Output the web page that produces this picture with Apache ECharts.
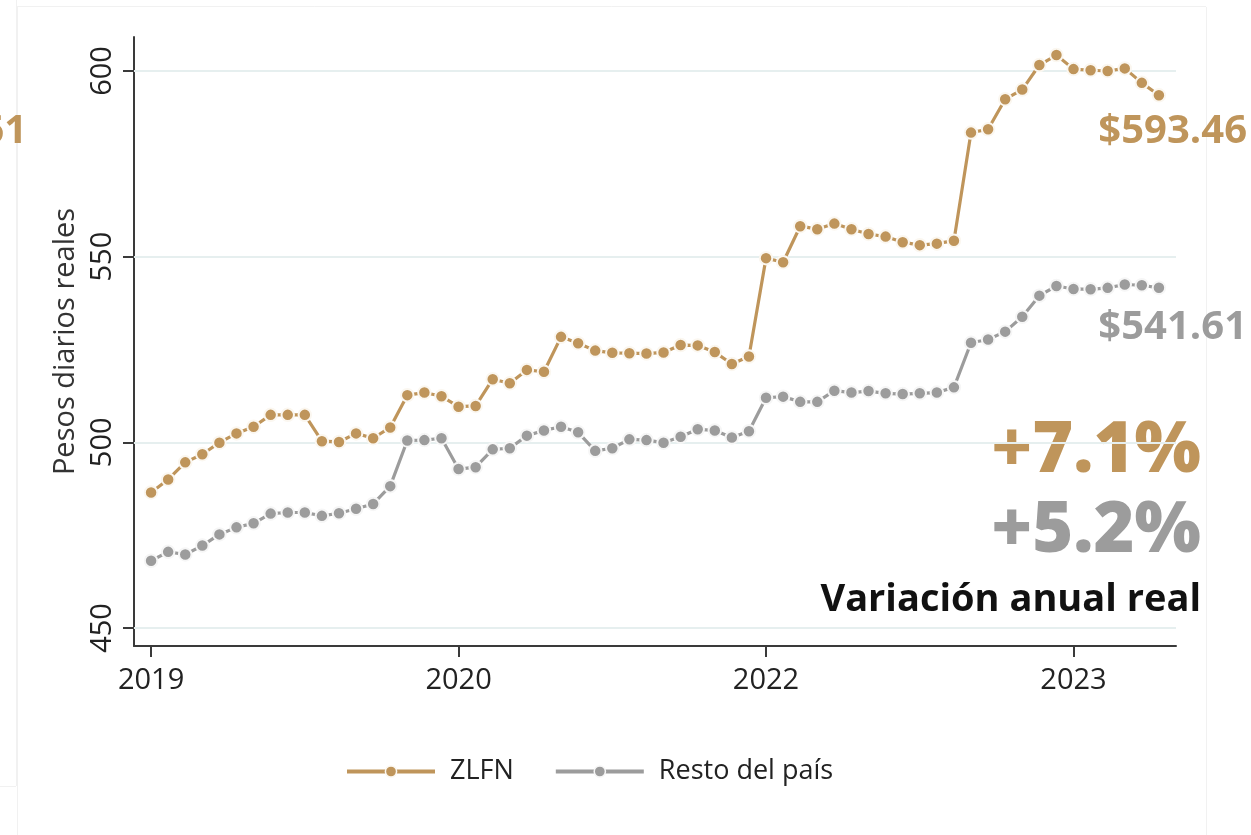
<!DOCTYPE html>
<html><head><meta charset="utf-8">
<script src="https://cdn.jsdelivr.net/npm/echarts@6/dist/echarts.min.js"></script>
<style>html,body{margin:0;padding:0;background:#fff}#c{width:1251px;height:835px}</style>
</head><body><div id="c"></div>
<script>
// Monthly series, Jan 2019 .. Dec 2023 (index 0..59)
const seriesNames = ['ZLFN', 'Resto del país'];
const zlfn = [486.5,490.0,494.6,496.8,499.9,502.4,504.2,507.4,507.4,507.4,
  500.3,500.1,502.4,501.1,504.0,512.7,513.4,512.4,509.6,509.8,
  517.0,515.9,519.5,519.0,528.4,526.7,524.7,524.1,524.0,523.9,
  524.2,526.2,526.1,524.3,521.1,523.1,549.6,548.5,558.2,557.4,
  558.9,557.4,556.1,555.4,553.9,553.1,553.5,554.3,583.4,584.3,
  592.4,595.0,601.6,604.3,600.5,600.2,600.0,600.7,596.8,593.46];
const resto = [468.1,470.5,469.8,472.2,475.2,477.1,478.2,480.8,481.1,481.1,
  480.2,480.9,482.1,483.4,488.2,500.5,500.6,501.1,492.8,493.3,
  498.1,498.4,501.8,503.2,504.2,502.7,497.7,498.4,500.8,500.6,
  499.9,501.5,503.5,503.2,501.3,503.0,512.0,512.3,510.9,510.9,
  513.9,513.4,513.8,513.2,513.0,513.2,513.4,514.8,526.8,527.7,
  529.8,533.8,539.5,542.1,541.3,541.2,541.6,542.5,542.3,541.61];
const xTickPositions = [0, 18, 36, 54];
const xTickLabels = ['2019', '2020', '2022', '2023'];
const yTicks = [450, 500, 550, 600];
const yName = 'Pesos diarios reales';

const GOLD = '#bf955b', GRAY = '#9c9c9c';
const FONT = "'Open Sans', sans-serif";

const toPts = arr => arr.map((v, i) => [i, v]);

const chart = echarts.init(document.getElementById('c'));
const borderCol = '#f1f1f1';
const txt = (x, y, text, fill, font) => ({
  type: 'text', x, y,
  style: { text, fill, font, align: 'right', verticalAlign: 'middle', textAlign: 'right', textVerticalAlign: 'middle' }
});
chart.setOption({
  animation: false,
  backgroundColor: '#fff',
  grid: { left: 134, right: 75, top: 37, bottom: 189, containLabel: false },
  xAxis: {
    type: 'value', min: -1, max: 60,
    axisLine: { show: true, onZero: false, lineStyle: { color: '#3a3a3a', width: 2 } },
    axisTick: { show: true, length: 11, customValues: xTickPositions, lineStyle: { color: '#3a3a3a', width: 2 } },
    axisLabel: { customValues: xTickPositions, margin: 20, fontFamily: FONT, fontSize: 29, color: '#222',
      formatter: v => xTickLabels[xTickPositions.indexOf(Math.round(v))] || '' },
    splitLine: { show: false }
  },
  yAxis: {
    type: 'value', min: 445.15, max: 609.15,
    name: yName, nameLocation: 'middle', nameGap: 54, nameRotate: 90,
    nameTextStyle: { fontFamily: FONT, fontSize: 29, color: '#333' },
    axisLine: { show: true, onZero: false, lineStyle: { color: '#3a3a3a', width: 2 } },
    axisTick: { show: true, length: 11, customValues: yTicks, lineStyle: { color: '#3a3a3a', width: 2 } },
    axisLabel: { customValues: yTicks, rotate: 90, margin: 17, fontFamily: FONT, fontSize: 29, color: '#222' },
    splitLine: { show: false }
  },
  legend: {
    left: 345, top: 758, padding: 0,
    itemWidth: 88, itemHeight: 14, itemGap: 40,
    lineStyle: { width: 4 },
    itemStyle: { borderWidth: 1.5 },
    textStyle: { fontFamily: FONT, fontSize: 27, color: '#222', padding: [0, 0, 0, 10] },
    data: seriesNames
  },
  series: [
    {
      name: seriesNames[0], type: 'line', data: toPts(zlfn),
      symbol: 'circle', symbolSize: 12.5, z: 4,
      lineStyle: { color: GOLD, width: 3.2 },
      itemStyle: { color: GOLD, borderColor: '#fbf7f0', borderWidth: 2 },
      markLine: {
        silent: true, symbol: 'none', label: { show: false }, z: 1,
        lineStyle: { color: '#e6efef', width: 2, type: 'solid' },
        data: yTicks.map(v => ({ yAxis: v }))
      }
    },
    {
      name: seriesNames[1], type: 'line', data: toPts(resto),
      symbol: 'circle', symbolSize: 12.5, z: 3,
      lineStyle: { color: GRAY, width: 3.2 },
      itemStyle: { color: GRAY, borderColor: '#f6f6f6', borderWidth: 2 }
    }
  ],
  graphic: [
    { type: 'line', shape: { x1: 16.5, y1: 0, x2: 16.5, y2: 786 }, style: { stroke: borderCol, lineWidth: 1 } },
    { type: 'line', shape: { x1: 0, y1: 786.5, x2: 16, y2: 786.5 }, style: { stroke: borderCol, lineWidth: 1 } },
    { type: 'line', shape: { x1: 17.5, y1: 7, x2: 17.5, y2: 835 }, style: { stroke: borderCol, lineWidth: 1 } },
    { type: 'line', shape: { x1: 17, y1: 6.5, x2: 1206, y2: 6.5 }, style: { stroke: borderCol, lineWidth: 1 } },
    { type: 'line', shape: { x1: 1206.5, y1: 7, x2: 1206.5, y2: 835 }, style: { stroke: borderCol, lineWidth: 1 } },
    txt(27, 132, '61', GOLD, "bold 40px 'Open Sans', sans-serif"),
    txt(1247, 132, '$593.46', GOLD, "bold 40px 'Open Sans', sans-serif"),
    txt(1247, 328, '$541.61', GRAY, "bold 40px 'Open Sans', sans-serif"),
    txt(1201, 452, '+7.1%', GOLD, "800 70px 'Open Sans', sans-serif"),
    txt(1201, 532, '+5.2%', GRAY, "800 70px 'Open Sans', sans-serif"),
    txt(1201, 600, 'Variación anual real', '#111', "bold 38px 'Open Sans', sans-serif")
  ]
});
</script></body></html>
